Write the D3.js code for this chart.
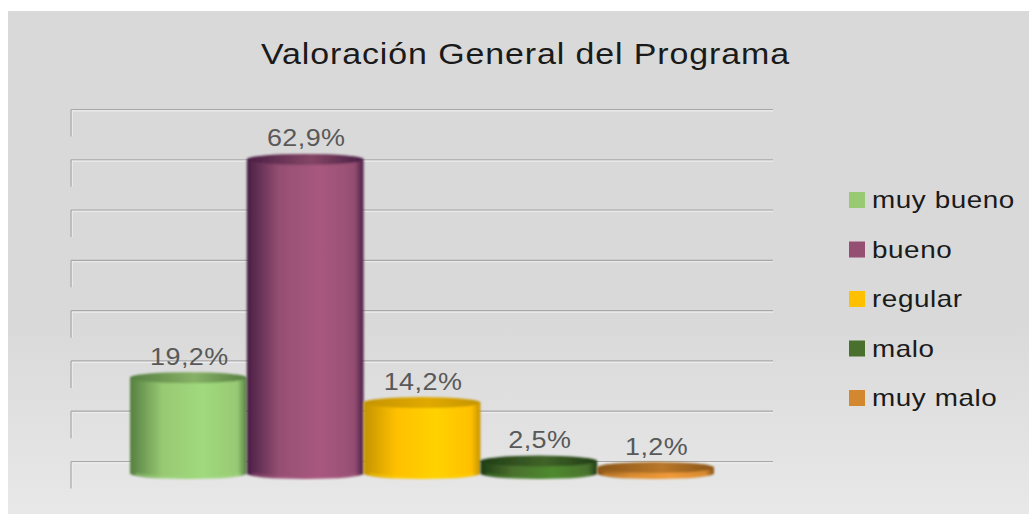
<!DOCTYPE html>
<html>
<head>
<meta charset="utf-8">
<script src="https://cdn.jsdelivr.net/npm/d3@7"></script>
<style>
    html, body { margin: 0; padding: 0; background: #fff; overflow: hidden; }
    text { font-family: "Liberation Sans", Arial, sans-serif; }
</style>
</head>
<body>
<div id="chart"></div>
<script>
const categories = ['muy bueno', 'bueno', 'regular', 'malo', 'muy malo'];
const values = [19.2, 62.9, 14.2, 2.5, 1.2];
const valueLabels = ['19,2%', '62,9%', '14,2%', '2,5%', '1,2%'];
const colors = ['#98c973', '#954f72', '#ffc000', '#4a702e', '#d38830'];
const edgeColors = ['#557f40', '#4a1f45', '#c49400', '#1f3d14', '#8a5518'];
const lightColors = ['#a0da7e', '#a9587f', '#ffd200', '#4f8a2e', '#f09a38'];
const gridTicks = [0, 10, 20, 30, 40, 50, 60, 70];
const titleText = 'Valoración General del Programa';

const width = 1029, height = 514;

const svg = d3.select('#chart').append('svg')
    .attr('width', width)
    .attr('height', height)
    .style('display', 'block');

const defs = svg.append('defs');

// panel background
const bgGrad = defs.append('linearGradient')
    .attr('id', 'bg').attr('x1', 0).attr('y1', 0).attr('x2', 0).attr('y2', 1);
bgGrad.append('stop').attr('offset', '0%').attr('stop-color', '#d9d9d9');
bgGrad.append('stop').attr('offset', '62%').attr('stop-color', '#d9d9d9');
bgGrad.append('stop').attr('offset', '100%').attr('stop-color', '#e8e8e8');

// the picture is a bit soft, bars get a small blur
defs.append('filter').attr('id', 'soft')
    .append('feGaussianBlur').attr('stdDeviation', 0.9);

categories.forEach((c, i) => {
    const g = defs.append('linearGradient').attr('id', `cyl${i}`);
    g.append('stop').attr('offset', '0%').attr('stop-color', edgeColors[i]);
    g.append('stop').attr('offset', '28%').attr('stop-color', colors[i]);
    g.append('stop').attr('offset', '62%').attr('stop-color', lightColors[i]);
    g.append('stop').attr('offset', '92%').attr('stop-color', colors[i]);
    g.append('stop').attr('offset', '100%').attr('stop-color', edgeColors[i]);

    const t = defs.append('linearGradient').attr('id', `top${i}`);
    t.append('stop').attr('offset', '0%').attr('stop-color', edgeColors[i]);
    t.append('stop').attr('offset', '55%').attr('stop-color', d3.color(colors[i]).darker(0.35));
    t.append('stop').attr('offset', '100%').attr('stop-color', edgeColors[i]);
});

svg.append('rect')
    .attr('x', 8).attr('y', 11)
    .attr('width', width - 8).attr('height', height - 11)
    .attr('fill', 'url(#bg)');

// title
svg.append('text')
    .attr('x', 261)
    .attr('y', 63.5)
    .attr('textLength', 529)
    .attr('lengthAdjust', 'spacingAndGlyphs')
    .attr('font-size', 30)
    .attr('letter-spacing', 0.8)
    .attr('fill', '#1a1a1a')
    .text(titleText);

// scales, bars stand in front of the back wall so they get their own range
const yWall = d3.scaleLinear().domain([0, 70]).range([461, 109]);
const yBar = d3.scaleLinear().domain([0, 70]).range([473.5, 124]);
const xScale = d3.scaleBand().domain(categories).range([130, 714]).padding(0);

// gridlines on the back wall
const gridG = svg.append('g')
    .attr('transform', 'translate(71,0)')
    .call(d3.axisRight(yWall).tickValues(gridTicks).tickSize(702).tickFormat(''))
    .call(g => g.select('.domain').remove());

gridG.selectAll('.tick line')
    .attr('stroke', '#a8a8a8')
    .attr('stroke-width', 1.2);

// light edge under each line
gridG.selectAll('.tick')
    .append('line')
    .attr('x1', 1).attr('x2', 702)
    .attr('y1', 1.4).attr('y2', 1.4)
    .attr('stroke', '#ececec')
    .attr('stroke-width', 1.2);

gridG.selectAll('.tick')
    .append('line')
    .attr('x1', 1.2).attr('x2', 1.2)
    .attr('y1', 1).attr('y2', 27)
    .attr('stroke', '#ececec')
    .attr('stroke-width', 1.2);

gridG.selectAll('.tick')
    .append('line')
    .attr('x1', 0).attr('x2', 0)
    .attr('y1', 0).attr('y2', 27)
    .attr('stroke', '#a8a8a8')
    .attr('stroke-width', 1.2);

// cylinders
const ry = 5.5;
const bars = svg.selectAll('.bar')
    .data(categories)
    .join('g')
    .attr('class', 'bar')
    .attr('filter', 'url(#soft)');

bars.append('path')
    .attr('fill', (d, i) => `url(#cyl${i})`)
    .attr('d', (d, i) => {
        const x0 = xScale(d), w = xScale.bandwidth();
        const top = yBar(values[i]), base = yBar(0);
        return `M${x0},${top}L${x0},${base}A${w / 2},${ry} 0 0 0 ${x0 + w},${base}L${x0 + w},${top}Z`;
    });

// lighter rim along the foot of the cylinder
bars.append('path')
    .attr('fill', 'none')
    .attr('stroke', (d, i) => lightColors[i])
    .attr('stroke-opacity', 0.6)
    .attr('stroke-width', 1.5)
    .attr('d', d => {
        const x0 = xScale(d), w = xScale.bandwidth(), base = yBar(0) - 1;
        return `M${x0 + 6},${base + 1.5}A${w / 2},${ry} 0 0 0 ${x0 + w - 6},${base + 1.5}`;
    });

bars.append('ellipse')
    .attr('cx', d => xScale(d) + xScale.bandwidth() / 2)
    .attr('cy', (d, i) => yBar(values[i]))
    .attr('rx', xScale.bandwidth() / 2)
    .attr('ry', ry)
    .attr('fill', (d, i) => `url(#top${i})`);

// value labels, the original text is stretched sideways
svg.selectAll('.value-label')
    .data(categories)
    .join('text')
    .attr('class', 'value-label')
    .attr('transform', (d, i) => {
        const cx = xScale(d) + xScale.bandwidth() / 2 + 1;
        return `translate(${cx},${yBar(values[i]) - 13}) scale(1.1,1)`;
    })
    .attr('text-anchor', 'middle')
    .attr('font-size', 24.5)
    .attr('letter-spacing', 0.4)
    .attr('fill', '#595959')
    .text((d, i) => valueLabels[i]);

// legend
const legendY = d3.scalePoint().domain(categories).range([200, 398]);

const legend = svg.selectAll('.legend')
    .data(categories)
    .join('g')
    .attr('class', 'legend')
    .attr('transform', d => `translate(849,${legendY(d)})`);

legend.append('rect')
    .attr('x', 0).attr('y', -8)
    .attr('width', 16).attr('height', 16)
    .attr('fill', (d, i) => colors[i]);

legend.append('text')
    .attr('transform', 'translate(23,8) scale(1.16,1)')
    .attr('font-size', 24)
    .attr('letter-spacing', 0.5)
    .attr('fill', '#1a1a1a')
    .text(d => d);
</script>
</body>
</html>
